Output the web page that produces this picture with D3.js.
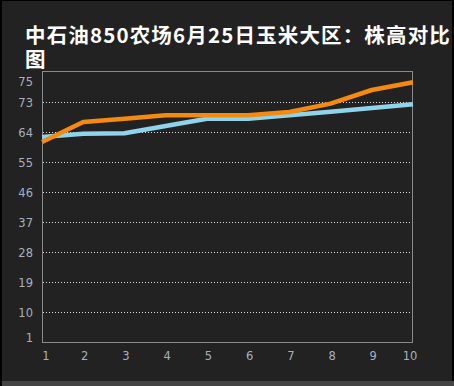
<!DOCTYPE html>
<html><head><meta charset="utf-8">
<script src="https://cdn.jsdelivr.net/npm/d3@7/dist/d3.min.js"></script>
<style>
html,body{margin:0;padding:0;background:#000;overflow:hidden}
svg{display:block}
#title{position:absolute;left:25px;top:22px;width:431px;color:#fff;font-family:'Noto Sans CJK SC','Noto Sans',sans-serif;
  font-weight:bold;font-size:20.5px;line-height:24px;white-space:normal}
</style>
</head><body>
<script>
const categories = [1,2,3,4,5,6,7,8,9,10];
const seriesOrange = [61, 67, 68, 69, 69, 69, 70, 72.5, 76.6, 78.9];
const seriesBlue = [62.5, 63.5, 63.6, 65.8, 68, 68, 69, 70.1, 71.2, 72.3];
const yTicks = [1,10,19,28,37,46,55,64,73];
const yTopLabel = 75;
const titleText = "中石油850农场6月25日玉米大区：株高对比图";
const titleLine1Chars = 22; // characters that fit on the first wrapped line

const W = 454, H = 386;
const svg = d3.select("body").append("svg").attr("width", W).attr("height", H);
svg.append("rect").attr("x",0).attr("y",0).attr("width",W).attr("height",H).attr("fill","#000");
svg.append("rect").attr("x",2).attr("y",1).attr("width",450).attr("height",380).attr("fill","#222");
svg.append("rect").attr("x",2).attr("y",381).attr("width",452).attr("height",5).attr("fill","#444");

const m = {left:42, right:413, top:71, bottom:342};
const x = d3.scalePoint().domain(categories).range([m.left, m.right]);
const y = d3.scaleLinear().domain([1, 82.3]).range([m.bottom, m.top]);

// title: one naturally wrapping HTML text block
const title = d3.select("body").append("div").attr("id","title");
const probe = d3.select("body").append("span")
  .style("position","absolute").style("visibility","hidden").style("white-space","nowrap")
  .style("font-family","'Noto Sans CJK SC','Noto Sans',sans-serif").style("font-weight","bold")
  .style("font-size","20.5px").text(titleText.slice(0, titleLine1Chars));
const w1 = probe.node().getBoundingClientRect().width;
probe.remove();
const ls = Math.max(0, (426 - w1) / titleLine1Chars);
title.style("letter-spacing", ls + "px").text(titleText);

// gridlines
svg.append("g").selectAll("line").data(yTicks.filter(d => d > 1)).join("line")
  .attr("x1", m.left+1).attr("x2", m.right-1)
  .attr("y1", d => Math.round(y(d))+0.5).attr("y2", d => Math.round(y(d))+0.5)
  .attr("stroke","#ddd").attr("stroke-width",1).attr("stroke-dasharray","1,2");

// plot border
svg.append("rect").attr("x",m.left+0.5).attr("y",m.top+0.5)
  .attr("width",m.right-m.left-1).attr("height",m.bottom-m.top)
  .attr("fill","none").attr("stroke","#8a8a8a").attr("stroke-width",1);

// y labels (clamped inside plot like original; top label sits at the axis top)
const lf = "'DejaVu Sans',Verdana,sans-serif";
const yPos = d => d === yTopLabel ? y(y.domain()[1]) + 10 : Math.min(m.bottom - 5, y(d));
const yLabels = yTicks.concat([yTopLabel]);
svg.append("g").selectAll("text").data(yLabels).join("text")
  .attr("x", 33).attr("text-anchor","end")
  .attr("y", d => yPos(d) + 4.5)
  .attr("fill","#a6b0bd").attr("font-family",lf).attr("font-size",11.5)
  .text(d => d);

// x labels
svg.append("g").selectAll("text").data(categories).join("text")
  .attr("x", d => Math.min(m.right-3, Math.max(m.left+4, x(d)+1.5)))
  .attr("y", 359.5).attr("text-anchor","middle")
  .attr("fill","#a6b0bd").attr("font-family",lf).attr("font-size",11.5)
  .text(d => d);

// lines
const line = arr => d3.line().x((d,i) => x(categories[i])).y(d => y(d))(arr);
svg.append("path").attr("d", line(seriesBlue)).attr("fill","none")
  .attr("stroke","#8fd4ea").attr("stroke-width",4.5).attr("stroke-linejoin","round");
svg.append("path").attr("d", line(seriesOrange)).attr("fill","none")
  .attr("stroke","#f58a10").attr("stroke-width",4.5).attr("stroke-linejoin","round");
</script>
</body></html>
